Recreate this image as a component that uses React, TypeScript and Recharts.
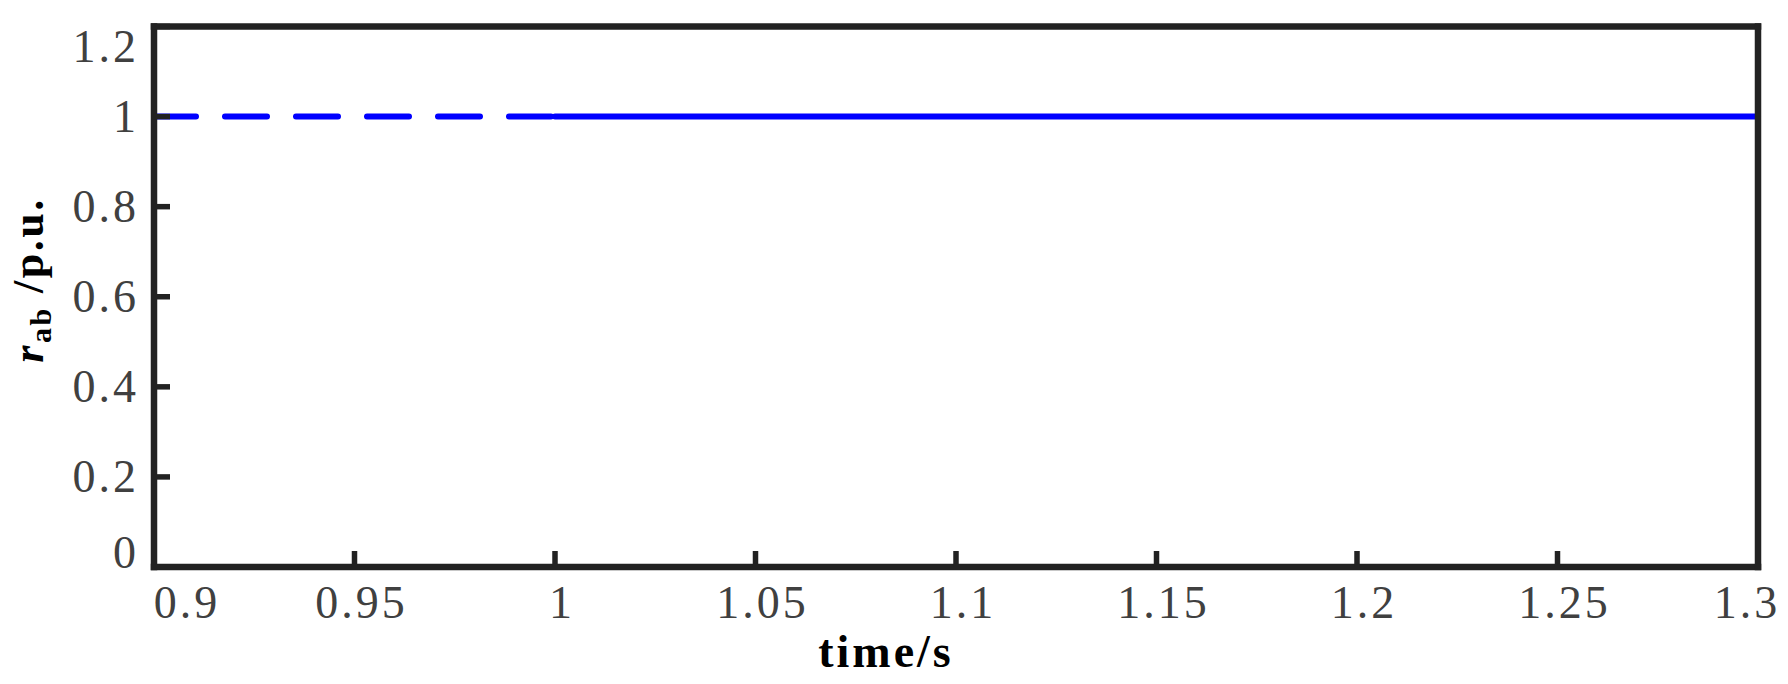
import { LineChart, Line, XAxis, YAxis } from "recharts";

const xTicks = [0.9, 0.95, 1, 1.05, 1.1, 1.15, 1.2, 1.25, 1.3];
const yTicks = [0, 0.2, 0.4, 0.6, 0.8, 1, 1.2];

// before t = 1 s the trace is dashed, after it solid
const timeBefore = [0.9, 1.0];
const rabBefore = [1, 1];
const timeAfter = [1.0, 1.3];
const rabAfter = [1, 1];

const serif = '"Liberation Serif", "Times New Roman", serif';
const frame = { stroke: "#222222", strokeWidth: 6.5, strokeLinecap: "square" as const };
const tickMark = { stroke: "#222222", strokeWidth: 5.5 };

const beforeData = timeBefore.map((t, i) => ({ t, r: rabBefore[i] }));
const afterData = timeAfter.map((t, i) => ({ t, r: rabAfter[i] }));

function XTick(props: any) {
  const { x, y, payload } = props;
  const v = payload.value;
  let dx = 7;
  if (v === 0.9) dx = 33;
  if (v === 1.3) dx = -11;
  return (
    <text x={x + dx} y={y} textAnchor="middle" fontFamily={serif} fontSize={46} letterSpacing={3} fill="#404040">
      {String(v)}
    </text>
  );
}

function YTick(props: any) {
  const { x, y, payload } = props;
  const v = payload.value;
  let dy = 15;
  if (v === 1.2) dy = 35;
  if (v === 0) dy = 1;
  return (
    <text x={x} y={y + dy} textAnchor="end" fontFamily={serif} fontSize={46} letterSpacing={3} fill="#404040">
      {String(v)}
    </text>
  );
}

function XLabel(props: any) {
  const { viewBox } = props;
  const cx = viewBox.x + viewBox.width / 2 - 70;
  return (
    <text x={cx} y={667} textAnchor="middle" fontFamily={serif} fontSize={46} fontWeight="bold" letterSpacing={3} fill="#000">
      time/s
    </text>
  );
}

function YLabel() {
  const cx = 43;
  const cy = 280;
  return (
    <text
      x={cx}
      y={cy}
      transform={`rotate(-90 ${cx} ${cy})`}
      textAnchor="middle"
      fontFamily={serif}
      fontSize={44}
      fontWeight="bold"
      letterSpacing={2.5}
      fill="#000"
    >
      <tspan fontStyle="italic">r</tspan>
      <tspan fontSize={30} dy={8}>ab</tspan>
      <tspan dy={-8}> /p.u.</tspan>
    </text>
  );
}

export default function App() {
  return (
    <div style={{ position: "absolute", left: 0, top: 0, background: "#fff" }}>
      <LineChart width={1788} height={684} margin={{ top: 25.5, right: 29, bottom: 116, left: 153 }}>
        <XAxis
          dataKey="t"
          type="number"
          domain={[0.9, 1.3]}
          ticks={xTicks}
          interval={0}
          height={1}
          axisLine={frame}
          tickLine={tickMark}
          tickSize={-16}
          tickMargin={67}
          tick={<XTick />}
          label={<XLabel />}
        />
        <XAxis
          xAxisId="top"
          orientation="top"
          type="number"
          domain={[0.9, 1.3]}
          ticks={xTicks}
          interval={0}
          height={1}
          axisLine={frame}
          tickLine={tickMark}
          tickSize={-16}
          tick={false}
        />
        <YAxis
          type="number"
          domain={[0, 1.2]}
          ticks={yTicks}
          interval={0}
          width={1}
          axisLine={frame}
          tickLine={tickMark}
          tickSize={-16}
          tickMargin={31}
          tick={<YTick />}
          label={<YLabel />}
        />
        <YAxis
          yAxisId="right"
          orientation="right"
          type="number"
          domain={[0, 1.2]}
          ticks={yTicks}
          interval={0}
          width={1}
          axisLine={frame}
          tickLine={tickMark}
          tickSize={-16}
          tick={false}
        />
        <Line
          data={beforeData}
          dataKey="r"
          type="linear"
          stroke="#0000ff"
          strokeWidth={6}
          strokeDasharray="42 29"
          strokeLinecap="round"
          dot={false}
          activeDot={false}
          isAnimationActive={false}
        />
        <Line
          data={afterData}
          dataKey="r"
          type="linear"
          stroke="#0000ff"
          strokeWidth={6}
          strokeLinecap="round"
          dot={false}
          activeDot={false}
          isAnimationActive={false}
        />
      </LineChart>
    </div>
  );
}
